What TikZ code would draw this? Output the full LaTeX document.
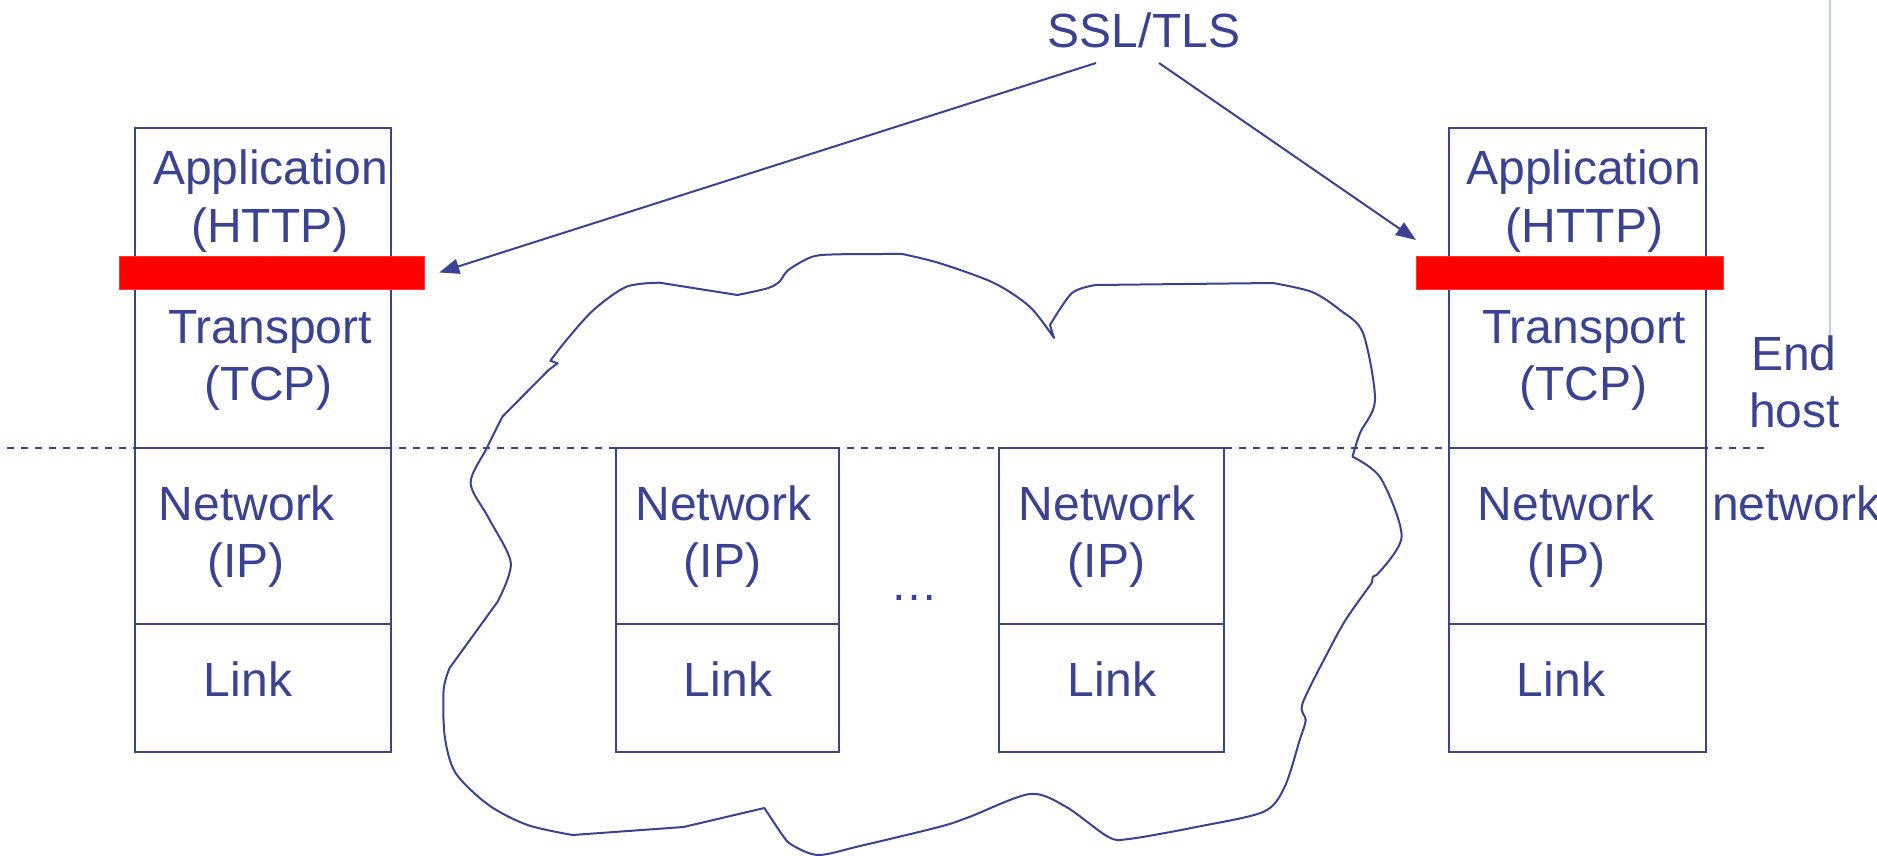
\documentclass[tikz,border=0pt]{standalone}
\usepackage{fontspec}
\setmainfont{Liberation Sans}
\usetikzlibrary{arrows.meta}
\definecolor{ink}{RGB}{58,66,146}
\definecolor{barred}{RGB}{255,0,0}
\definecolor{paleblue}{RGB}{190,206,245}
\tikzset{
  layerbox/.style={draw=ink, line width=2pt, inner sep=0pt, outer sep=0pt},
  redbar/.style={fill=barred, draw=barred!80!white, line width=0.8pt, inner sep=0pt, outer sep=0pt},
  lbl/.style={text=ink, inner sep=0pt, anchor=base, font=\fontsize{48pt}{57pt}\selectfont},
  lblw/.style={lbl, anchor=base west},
  conn/.style={draw=ink, line width=2pt, -{Triangle[length=20pt,width=15pt]}},
  cloudline/.style={draw=ink, line width=2pt, line join=round},
  sepline/.style={draw=ink, line width=2pt, dash pattern=on 7pt off 7pt},
  vline/.style={draw=paleblue, line width=1.6pt}
}
\begin{document}
\begin{tikzpicture}[x=1pt, y=-1pt]
\useasboundingbox (0,0) rectangle (1877,856);

% cloud
\draw[cloudline]
  plot[smooth, tension=0.5] coordinates {(550.4,360.7) (566.5,340) (593.5,310) (626.5,286.7) (659.5,282.7)}
  -- (737.4,295)
  -- plot[smooth, tension=0.5] coordinates {(737.4,295) (767.4,288.3) (779.4,281.7) (788.4,270) (812.4,256.7) (839.3,254.3) (902.3,254)}
  -- plot[smooth, tension=0.5] coordinates {(902.3,254) (940,263.3) (994,283) (1030,307) (1054,338)}
  -- plot[smooth, tension=0.5] coordinates {(1050,325) (1072,293) (1096,285)}
  -- (1273,283)
  -- plot[smooth, tension=0.5] coordinates {(1273,283) (1312,292) (1340,310) (1363,333) (1375,400) (1360,433) (1352.5,456.7)}
  -- plot[smooth, tension=0.5] coordinates {(1352.5,456.7) (1380.6,478) (1401.6,536.7) (1376.5,575)}
  -- (1372.9,576.7)
  -- plot[smooth, tension=0.5] coordinates {(1371.7,583) (1347.7,616.7) (1332.7,643) (1302.7,703) (1305.7,720) (1299.7,740) (1284.7,786.7) (1263.7,811.7) (1197.8,826.7) (1128.8,839) (1107.9,836.7) (1065.9,806.7) (1029.9,794) (970,816.7) (940,826.7) (860,846) (818.3,855) (792,845) (782.4,835) (764.4,808)}
  -- (683.5,827) -- (572.5,835)
  -- plot[smooth, tension=0.5] coordinates {(572.5,835) (527.6,825) (488.6,805) (455.6,773) (444.8,736.7) (443.6,690) (449.6,668)}
  -- (497.6,601.7)
  -- plot[smooth, tension=0.5] coordinates {(497.6,601.7) (510.8,563) (488.6,518) (470.6,483) (486.8,448) (502.4,416.7)}
  -- (548.6,370) -- (557.6,363.3) -- cycle;

% left end host stack
\node[layerbox, minimum width=256pt, minimum height=320pt] (lTop) at (263,288) {};
\node[layerbox, minimum width=256pt, minimum height=176pt] (lNet) at (263,536) {};
\node[layerbox, minimum width=256pt, minimum height=128pt] (lLink) at (263,688) {};
\node[redbar, minimum width=305pt, minimum height=33pt] (redL) at (271.75,272.5) {};

% routers
\node[layerbox, minimum width=223pt, minimum height=176pt] (m1Net) at (727.5,536) {};
\node[layerbox, minimum width=223pt, minimum height=128pt] (m1Link) at (727.5,688) {};
\node[layerbox, minimum width=225pt, minimum height=176pt] (m2Net) at (1111.5,536) {};
\node[layerbox, minimum width=225pt, minimum height=128pt] (m2Link) at (1111.5,688) {};

% right end host stack
\node[layerbox, minimum width=257pt, minimum height=320pt] (rTop) at (1577.5,288) {};
\node[layerbox, minimum width=257pt, minimum height=176pt] (rNet) at (1577.5,536) {};
\node[layerbox, minimum width=257pt, minimum height=128pt] (rLink) at (1577.5,688) {};
\node[redbar, minimum width=307pt, minimum height=33pt] (redR) at (1569.5,272.5) {};

% separator
\coordinate (sepA) at (7,448);
\coordinate (sepB) at (1767,448);
\draw[sepline] (sepA) -- (sepB);

% pale vertical line
\coordinate (vTop) at (1830,0);
\coordinate (vBot) at (1830,335);
\draw[vline] (vTop) -- (vBot);

% labels left
\node[lbl] (lApp) at (270.5,185) {Application};
\node[lbl] (lHttp) at (270,242) {(HTTP)};
\node[lbl] (lTr) at (270,343) {Transport};
\node[lbl] (lTcp) at (268,400) {(TCP)};
\node[lbl] (lNw) at (247,520) {Network};
\node[lbl] (lIp) at (246,577) {(IP)};
\node[lbl] (lLk) at (248,696) {Link};

% labels routers
\node[lbl] (m1Nw) at (723.6,520) {Network};
\node[lbl] (m1Ip) at (722.5,577) {(IP)};
\node[lbl] (m1Lk) at (728,696) {Link};
\node[lbl] (m2Nw) at (1107,520) {Network};
\node[lbl] (m2Ip) at (1106.4,577) {(IP)};
\node[lbl] (m2Lk) at (1112,696) {Link};
\node[lbl] (dots) at (914.5,600) {…};

% labels right
\node[lbl] (rApp) at (1584,185) {Application};
\node[lbl] (rHttp) at (1584.5,242) {(HTTP)};
\node[lbl] (rTr) at (1584,343) {Transport};
\node[lbl] (rTcp) at (1583.5,400) {(TCP)};
\node[lbl] (rNw) at (1566,520) {Network};
\node[lbl] (rIp) at (1566.5,577) {(IP)};
\node[lbl] (rLk) at (1561,696) {Link};

\node[lblw] (endT) at (1751,370) {End};
\node[lblw] (hostT) at (1749,427) {host};
\node[lblw] (netT) at (1712,520) {network};

% SSL/TLS
\node[lbl] (ssl) at (1144,48) {SSL/TLS};
\coordinate (sslA) at (1096,63);
\coordinate (sslB) at (1159,63);
\coordinate (tipL) at ([xshift=15pt]redL.east);
\coordinate (tipR) at ([yshift=16pt]redR.north west);
\draw[conn] (sslA) -- (tipL);
\draw[conn] (sslB) -- (tipR);
\end{tikzpicture}
\end{document}
